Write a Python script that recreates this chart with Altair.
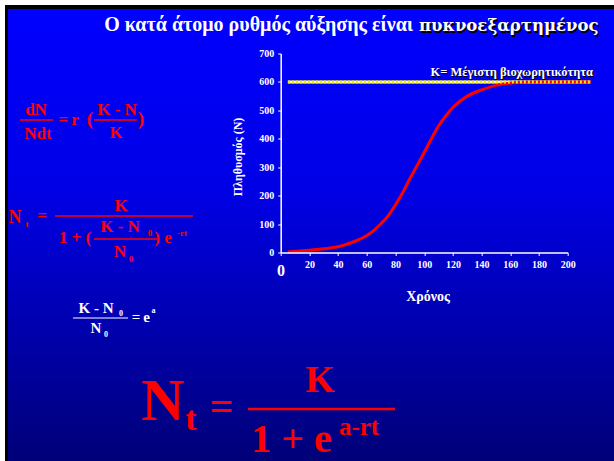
import altair as alt
import pandas as pd

# ---- data ----
t_vals = [5, 10, 20, 30, 40, 50, 60, 65, 70, 75, 80, 85, 90, 95, 100, 105, 110,
          115, 120, 130, 140, 150, 160, 170, 180, 200, 216]
n_vals = [2, 4, 8, 13, 20, 36, 60, 78, 102, 130, 168, 210, 260, 305, 352, 400, 445,
          480, 510, 550, 572, 588, 596, 599, 600, 600, 600]
k_t = [5, 216]
k_n = [600, 600]
x_ticks = [0, 20, 40, 60, 80, 100, 120, 140, 160, 180, 200]
y_ticks = [0, 100, 200, 300, 400, 500, 600, 700]

title_a = "Ο κατά άτομο ρυθμός αύξησης είναι"
title_b = "πυκνοεξαρτημένος"
k_label = "K= Μέγιστη βιοχωρητικότητα"
x_title = "Χρόνος"
y_title = "Πληθυσμός (N)"

curve = pd.DataFrame({"t": t_vals, "N": n_vals})
kline = pd.DataFrame({"t": k_t, "N": k_n})
one = pd.DataFrame({"k": [0]})

# ---- layout (slide pixel coords) ----
W, H = 614, 461
X0, Y0 = 280.7, 53.5          # plot origin on the slide
PW, PH = 287, 199             # plot size
SERIF = "Liberation Serif"
RED = "#ff0000"
WHITE = "#ffffff"


def T(text, x, y, size, color=RED, align="center", font=SERIF):
    return alt.Chart(one).mark_text(
        text=text, font=font, fontWeight="bold", fontSize=size, color=color,
        align=align, baseline="alphabetic"
    ).encode(x=alt.value(x - X0), y=alt.value(y - Y0))


def R(x1, x2, y, color=RED, w=1.5):
    return alt.Chart(one).mark_rule(color=color, strokeWidth=w).encode(
        x=alt.value(x1 - X0), x2=alt.value(x2 - X0), y=alt.value(y - Y0))


frame = alt.Chart(one).mark_rect(color="#000000").encode(
    x=alt.value(5 - X0), x2=alt.value(W - X0), y=alt.value(5 - Y0), y2=alt.value(H - Y0))

grad = alt.Gradient(
    gradient="linear",
    stops=[alt.GradientStop(color="#0000ff", offset=0),
           alt.GradientStop(color="#0000e6", offset=0.4),
           alt.GradientStop(color="#000078", offset=1)],
    x1=0, x2=0, y1=0, y2=1)
bg = alt.Chart(one).mark_rect(fill=grad).encode(
    x=alt.value(8 - X0), x2=alt.value(W - X0), y=alt.value(9 - Y0), y2=alt.value(H - Y0))

xs = alt.Scale(domain=[0, 200], nice=False)
ys = alt.Scale(domain=[0, 700], nice=False)

x_axis = alt.Axis(values=x_ticks, tickCount=11,
                  labelExpr="datum.value == 0 ? '' : datum.label",
                  grid=False, domainColor=WHITE, domainWidth=1.5, tickColor=WHITE,
                  tickSize=3, labelColor=WHITE, labelFont=SERIF, labelFontWeight="bold",
                  labelFontSize=10, labelPadding=4, labelOverlap=False, labelFlush=False,
                  title=x_title, titleFont=SERIF,
                  titleFontWeight="bold", titleFontSize=14, titleColor=WHITE,
                  titleX=146.8, titleY=48, titleAlign="center", titleBaseline="alphabetic",
                  zindex=1)
y_axis = alt.Axis(values=y_ticks, tickCount=8, grid=False, domainColor=WHITE,
                  domainWidth=1.5,
                  tickColor=WHITE, tickSize=3, labelColor=WHITE, labelFont=SERIF,
                  labelFontWeight="bold", labelFontSize=10, labelPadding=4,
                  labelOverlap=False, labelFlush=False,
                  title=y_title, titleFont=SERIF, titleFontWeight="bold", titleFontSize=12,
                  titleColor=WHITE, titleX=-39, titleY=103, titleAlign="center",
                  titleBaseline="alphabetic", titleAngle=270, zindex=1)

enc_x = alt.X("t:Q", scale=xs, axis=x_axis)
enc_y = alt.Y("N:Q", scale=ys, axis=y_axis)

k_under = alt.Chart(kline).mark_line(color="#ffff99", strokeWidth=3).encode(x=enc_x, y=enc_y)
red = alt.Chart(curve).mark_line(color=RED, strokeWidth=3, interpolate="monotone").encode(
    x=enc_x, y=enc_y)
k_over = alt.Chart(kline).mark_line(color="#f2e600", strokeWidth=3, strokeDash=[2, 2]).encode(
    x=enc_x, y=enc_y)

texts = [
    # title
    T(title_a, 413, 31, 20, WHITE, "right"),
    T(title_b, 420.5, 32.5, 16.5, "#000000", "left", "DejaVu Serif"),
    T(title_b, 419, 31, 16.5, WHITE, "left", "DejaVu Serif"),
    # K label
    T(k_label, 594, 77, 12.5, "#000000", "right"),
    T(k_label, 593, 76, 12.5, WHITE, "right"),
    # big zero on x axis
    T("0", 281, 276, 16, WHITE),
    # eq 1
    T("dN", 36, 115, 17), R(20, 53, 120), T("Ndt", 38, 139, 17),
    T("=", 63, 125, 17), T("r", 75, 125, 17), T("(", 90, 125, 19),
    T("K - N", 117, 115, 17), R(94, 137, 120), T("K", 116, 138, 17),
    T(")", 141, 125, 19),
    # eq 2
    T("N", 15, 223, 18), T("t", 27, 227, 9), T("=", 42, 221, 17),
    T("K", 121, 211, 17), R(55, 193, 216),
    T("1 + (", 75, 243, 17), T("K  - N", 120, 232, 17), T("0", 150, 236, 9),
    R(94, 157, 239), T("N", 120, 257, 17), T("0", 131, 262, 9),
    T(")", 157, 243, 17), T("e", 168, 243, 17), T("-rt", 182, 236, 9),
    # eq 3 (white)
    T("K  - N", 96, 313, 15, WHITE), T("0", 121, 316, 8, WHITE),
    R(73, 128, 318, WHITE, 1.2), T("N", 96, 333, 15, WHITE), T("0", 106, 337, 8, WHITE),
    T("=", 136, 322, 15, WHITE), T("e", 146.5, 322, 15, WHITE), T("a", 153.5, 313, 8, WHITE),
    # big formula
    T("N", 163, 420, 60), T("t", 191, 430, 34), T("=", 221.5, 420, 42),
    T("K", 320, 392, 38), R(248, 395, 409, RED, 2.5),
    T("1 + e", 291.5, 452, 40), T("a-rt", 359, 435, 25),
]

chart = alt.layer(frame, bg, k_under, red, k_over, *texts).properties(
    width=PW, height=PH,
    autosize=alt.AutoSizeParams(type="none"),
    padding={"left": X0, "top": Y0, "right": W - X0 - PW, "bottom": H - Y0 - PH},
    background="#ffffff",
).configure_view(strokeWidth=0).configure_axis(labelOverlap=False)

chart.save("out.html", embed_options={"renderer": "svg", "actions": False})
